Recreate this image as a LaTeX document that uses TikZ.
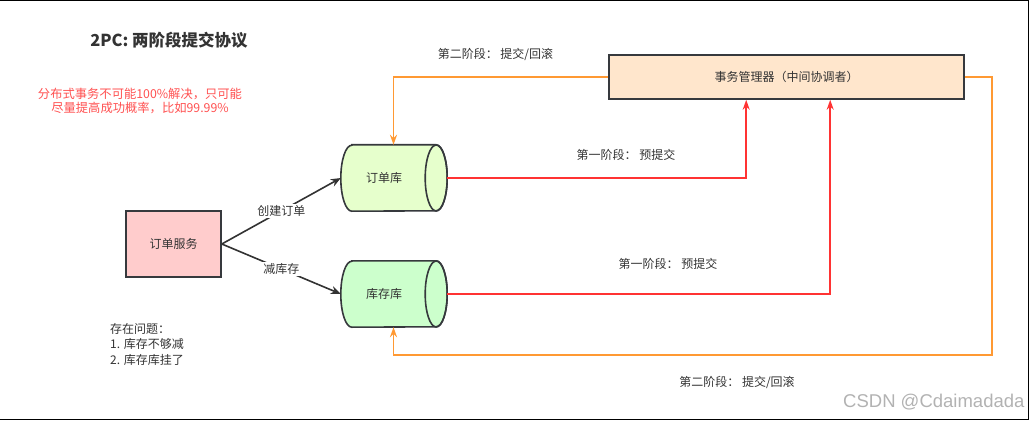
\documentclass[tikz,border=0pt]{standalone}
\usepackage{fontspec}
\setmainfont{Noto Sans CJK SC}
\newfontfamily\wmfont{Liberation Sans}
\usetikzlibrary{arrows.meta,calc,backgrounds}
\definecolor{ink}{HTML}{333333}
\definecolor{edge}{HTML}{36393D}
\definecolor{redln}{HTML}{FF3333}
\definecolor{orgln}{HTML}{FF9933}
\definecolor{notered}{HTML}{FF5050}
\definecolor{svcfill}{HTML}{FFCCCC}
\definecolor{odbfill}{HTML}{E6FFCC}
\definecolor{sdbfill}{HTML}{CCFFCC}
\definecolor{mgrfill}{HTML}{FFE6CC}
\begin{document}
\begin{tikzpicture}[x=1pt,y=1pt,
  font=\fontsize{12}{15}\selectfont, text=ink,
  box/.style={draw=edge, line width=1.6pt, inner sep=0pt},
  dbnode/.style={inner sep=0pt, minimum width=95pt, minimum height=66pt},
  cylline/.style={draw=edge, line width=1.6pt},
  blackarr/.style={draw=ink, line width=1.6pt, -{Stealth[length=10pt,width=8pt]}},
  redarr/.style={draw=redln, line width=1.8pt, -{Stealth[length=10pt,width=7pt]}},
  orgarr/.style={draw=orgln, line width=1.8pt, -{Stealth[length=10pt,width=7pt]}},
  lbl/.style={fill=white, inner sep=1pt},
  plain/.style={inner sep=0pt}]
\useasboundingbox (0,0) rectangle (1030,421);

% frame (top, right, bottom)
\draw[line width=1.5pt, black] (0,420.3) -- (1028.3,420.3) -- (1028.3,1.6) -- (0,1.6);

% title and notes
\node[plain, font=\fontsize{16.5}{20}\selectfont\bfseries] (title) at (169,381) {2PC: 两阶段提交协议};
\node[plain, text=notered, align=center, font=\fontsize{12.3}{14}\selectfont] (note) at (140,320) {分布式事务不可能100\%解决，只可能\\尽量提高成功概率，比如99.99\%};
\node[plain, anchor=west, align=left, font=\fontsize{12}{15.5}\selectfont] (issues) at (110,77) {存在问题：\\1. 库存不够减\\2. 库存库挂了};

% nodes
\node[box, fill=svcfill, minimum width=95pt, minimum height=66pt] (svc) at (173.5,177) {订单服务};
\node[dbnode] (odb) at (388.5,243) {\hspace*{-9pt}订单库};
\node[dbnode] (sdb) at (388.5,127) {\hspace*{-9pt}库存库};
\node[box, fill=mgrfill, minimum width=355pt, minimum height=44pt] (mgr) at (786.5,344) {事务管理器（中间协调者）};

\begin{scope}[on background layer]
  \foreach \n/\c in {odb/odbfill, sdb/sdbfill}{
    \filldraw[cylline, fill=\c] ($(\n.north west)+(11,0)$) -- (\n.north east)
      arc[start angle=90, end angle=-90, x radius=11, y radius=33]
      -- ($(\n.south west)+(11,0)$)
      arc[start angle=270, end angle=90, x radius=11, y radius=33] -- cycle;
    \draw[cylline] (\n.east) ellipse [x radius=11, y radius=33];
  }
\end{scope}

% service -> databases
\draw[blackarr] (svc.east) -- node[lbl] (l1) {创建订单} (odb.west);
\draw[blackarr] (svc.east) -- node[lbl] (l2) {减库存} (sdb.west);

% phase 1 (red)
\draw[redarr] ($(odb.east)+(11,0)$) -| ($(mgr.south west)+(138,0)$);
\draw[redarr] ($(sdb.east)+(11,0)$) -| ($(mgr.south west)+(222,0)$);
\node[plain] (p1a) at (626,266) {第一阶段： 预提交};
\node[plain] (p1b) at (668,157) {第一阶段： 预提交};

% phase 2 (orange)
\draw[orgarr] (mgr.west) -| ($(odb.north)+(5,0)$);
\coordinate (corner) at (992,66);
\draw[orgarr] (mgr.east) -| (corner) -| ($(sdb.south)+(5,0)$);
\node[plain] (p2a) at (495.5,367) {第二阶段： 提交/回滚};
\node[plain] (p2b) at (737,39) {第二阶段： 提交/回滚};

% watermark
\node[plain, anchor=west, text=black!30, font=\wmfont\fontsize{18.5}{20}\selectfont] (wm) at (843,19) {CSDN @Cdaimadada};
\end{tikzpicture}
\end{document}
